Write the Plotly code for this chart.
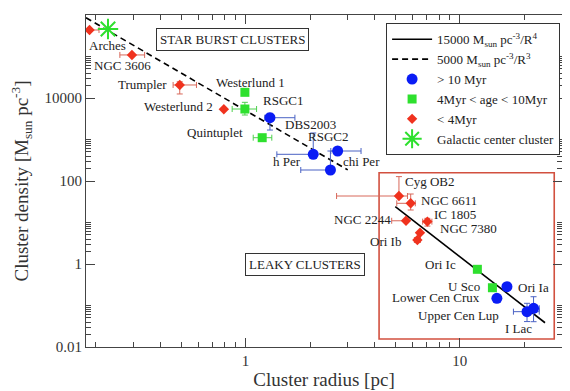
import math
import plotly.graph_objects as go

# ---------------- data ----------------
# > 10 Myr (blue circles)
old_names = ["DBS2003", "h Per", "RSGC2", "chi Per", "Ori Ia", "Lower Cen Crux", "Upper Cen Lup", "I Lac"]
old_r = [1.30, 2.07, 2.69, 2.49, 16.6, 14.9, 20.6, 22.1]
old_rho = [3350, 440, 528, 184, 0.284, 0.149, 0.071, 0.0857]
old_rerr_p = [0.40, 0.0, 0.77, 0.0, 0.6, 0.0, 2.9, 1.4]
old_rerr_m = [0.07, 0.67, 0.19, 0.68, 0.6, 0.0, 2.8, 0.0]
old_derr_p = [930, 995, 0, 344, 0, 0, 0.042, 0.077]
old_derr_m = [1660, 0, 0, 0, 0, 0, 0.030, 0.045]

# 4 Myr < age < 10 Myr (green squares)
mid_names = ["Westerlund 1", "RSGC1", "Quintuplet", "Ori Ic", "U Sco"]
mid_r = [0.993, 0.993, 1.196, 12.08, 14.2]
mid_rho = [13700, 5430, 1105, 0.745, 0.268]
mid_rerr_p = [0.0, 0.133, 0.13, 0.0, 0.0]
mid_rerr_m = [0.0, 0.127, 0.11, 0.0, 0.0]
mid_derr_p = [0, 2440, 0, 0, 0]
mid_derr_m = [0, 1540, 0, 0, 0]

# < 4 Myr (red diamonds)
young_names = ["Arches", "NGC 3606", "Trumpler", "Westerlund 2", "Cyg OB2", "NGC 6611",
               "NGC 2244", "IC 1805", "NGC 7380", "Ori Ib"]
young_r = [0.187, 0.295, 0.493, 0.792, 5.2, 5.9, 5.61, 7.06, 6.52, 6.34]
young_rho = [4.35e5, 1.09e5, 2.06e4, 5340, 43.5, 29, 11.0, 10.5, 5.68, 3.79]
young_rerr_p = [0.02, 0.043, 0.097, 0.0, 0.5, 0.3, 0.0, 0.35, 0.0, 0.2]
young_rerr_m = [0.008, 0.036, 0.034, 0.0, 2.54, 0.82, 0.8, 0.35, 0.0, 0.2]
young_derr_p = [0, 0, 4000, 0, 84, 19.6, 0, 2.1, 0, 0.5]
young_derr_m = [0, 0, 8100, 0, 0, 9, 0, 2.3, 0, 0.5]

# Galactic center cluster (green asterisk)
gc_r = [0.228]
gc_rho = [4.6e5]

# model curves: rho = coef / R^n
solid_coef, solid_pow, solid_r = 15000, 4, [5.0, 25.0]
dash_coef, dash_pow, dash_r = 5000, 3, [0.18, 3.0]

# axis ticks
x_major = [1, 10]
x_major_text = ["1", "10"]
x_minor = [0.2, 0.3, 0.4, 0.5, 0.6, 0.7, 0.8, 0.9, 2, 3, 4, 5, 6, 7, 8, 9, 20, 30]
y_major = [0.01, 1, 100, 1e4, 1e6]
y_major_text = ["0.01", "1", "100", "10000", "1e+06"]
y_minor = [m * v for v in [0.01, 1, 100, 1e4] for m in range(2, 11)]

# cluster labels (text, radius, density of label centre)
labels = [
    ("Arches", 0.227, 1.89e5), ("NGC 3606", 0.267, 6.24e4), ("Trumpler", 0.331, 2.17e4),
    ("Westerlund 2", 0.488, 6410), ("Westerlund 1", 1.059, 2.3e4), ("RSGC1", 1.49, 8950),
    ("DBS2003", 2.02, 2362), ("Quintuplet", 0.719, 1435), ("RSGC2", 2.42, 1150),
    ("h Per", 1.56, 303), ("chi Per", 3.49, 303), ("Cyg OB2", 7.26, 100),
    ("NGC 6611", 8.91, 33), ("IC 1805", 9.5, 15.2), ("NGC 7380", 10.94, 7.37),
    ("NGC 2244", 3.53, 11.5), ("Ori Ib", 4.48, 3.58), ("Ori Ic", 8.09, 1.0),
    ("U Sco", 10.47, 0.295), ("Ori Ia", 22.0, 0.279), ("Lower Cen Crux", 7.75, 0.152),
    ("Upper Cen Lup", 9.82, 0.059), ("I Lac", 18.7, 0.0272),
]
box_labels = [("STAR BURST CLUSTERS", 0.872, 2.5e5), ("LEAKY CLUSTERS", 1.89, 1.0)]
leaky_box = (4.2, 27.6, 0.0156, 158)

# ---------------- figure ----------------
FONT = "Liberation Serif, Times New Roman, serif"
BLUE, GREEN, RED = "#0a1cf5", "#2ee02e", "#f0321e"
BLUE_E, GREEN_E, RED_E = "#4a62c4", "#4ed04e", "#d8685a"

fig = go.Figure()

fig.add_trace(go.Scatter(
    x=solid_r, y=[solid_coef / r ** solid_pow for r in solid_r], mode="lines",
    line=dict(color="black", width=1.6),
    name="15000 M<sub>sun</sub> pc<sup>-3</sup>/R<sup>4</sup>", legendrank=1))
fig.add_trace(go.Scatter(
    x=dash_r, y=[dash_coef / r ** dash_pow for r in dash_r], mode="lines",
    line=dict(color="black", width=1.6, dash="6px,4px"),
    name="5000 M<sub>sun</sub> pc<sup>-3</sup>/R<sup>3</sup>", legendrank=2))


def err(p, m, color):
    return dict(type="data", symmetric=False, array=p, arrayminus=m,
                color=color, thickness=1, width=3)


fig.add_trace(go.Scatter(
    x=old_r, y=old_rho, mode="markers", text=old_names, name="> 10 Myr", legendrank=3,
    marker=dict(symbol="circle", size=11, color=BLUE),
    error_x=err(old_rerr_p, old_rerr_m, BLUE_E), error_y=err(old_derr_p, old_derr_m, BLUE_E)))
fig.add_trace(go.Scatter(
    x=mid_r, y=mid_rho, mode="markers", text=mid_names, name="4Myr < age < 10Myr", legendrank=4,
    marker=dict(symbol="square", size=9, color=GREEN),
    error_x=err(mid_rerr_p, mid_rerr_m, GREEN_E), error_y=err(mid_derr_p, mid_derr_m, GREEN_E)))
fig.add_trace(go.Scatter(
    x=young_r, y=young_rho, mode="markers", text=young_names, name="< 4Myr", legendrank=5,
    marker=dict(symbol="diamond", size=8, color=RED),
    error_x=err(young_rerr_p, young_rerr_m, RED_E), error_y=err(young_derr_p, young_derr_m, RED_E)))
fig.add_trace(go.Scatter(
    x=gc_r, y=gc_rho, mode="markers", name="Galactic center cluster", legendrank=6,
    marker=dict(symbol="asterisk", size=17, color=GREEN, line=dict(color=GREEN, width=2))))

for txt, xr, yr in labels:
    fig.add_annotation(x=math.log10(xr), y=math.log10(yr), text=txt, showarrow=False,
                       font=dict(family=FONT, size=13, color="#222"))
for txt, xr, yr in box_labels:
    fig.add_annotation(x=math.log10(xr), y=math.log10(yr), text=txt, showarrow=False,
                       font=dict(family=FONT, size=13, color="#222"),
                       bordercolor="#333", borderwidth=1, borderpad=3, bgcolor="white")

fig.add_shape(type="rect", xref="x", yref="y", x0=leaky_box[0], x1=leaky_box[1],
              y0=leaky_box[2], y1=leaky_box[3], line=dict(color="#d2503f", width=1.6),
              layer="below")

axis_common = dict(
    type="log", showgrid=False, zeroline=False, showline=True, linecolor="#444",
    linewidth=1, mirror="ticks", ticks="inside", ticklen=9, tickcolor="#444",
    tickfont=dict(family=FONT, size=15, color="#333"), automargin=False,
)
fig.update_xaxes(
    **axis_common, range=[math.log10(0.18), math.log10(30)],
    tickvals=x_major, ticktext=x_major_text,
    minor=dict(tickvals=x_minor, ticks="inside", ticklen=5, tickcolor="#444"),
    title=dict(text="Cluster radius [pc]", font=dict(family=FONT, size=19, color="#333"), standoff=4),
)
fig.update_yaxes(
    **axis_common, range=[-2, 6],
    tickvals=y_major, ticktext=y_major_text,
    minor=dict(tickvals=y_minor, ticks="inside", ticklen=5, tickcolor="#444"),
    title=dict(text="Cluster density [M<sub>sun</sub> pc<sup>-3</sup>]",
               font=dict(family=FONT, size=19, color="#333"), standoff=12),
)

# the page body adds an 8 px offset, so the figure is 8 px smaller than the window
fig.update_layout(
    width=562, height=383, margin=dict(l=78, r=8, t=7, b=44),
    paper_bgcolor="white", plot_bgcolor="white",
    showlegend=True,
    legend=dict(x=0.996, y=0.975, xanchor="right", yanchor="top",
                bordercolor="#333", borderwidth=1, bgcolor="white",
                font=dict(family=FONT, size=13, color="#222"),
                itemwidth=40, tracegroupgap=0),
)

fig.write_html("out.html")
